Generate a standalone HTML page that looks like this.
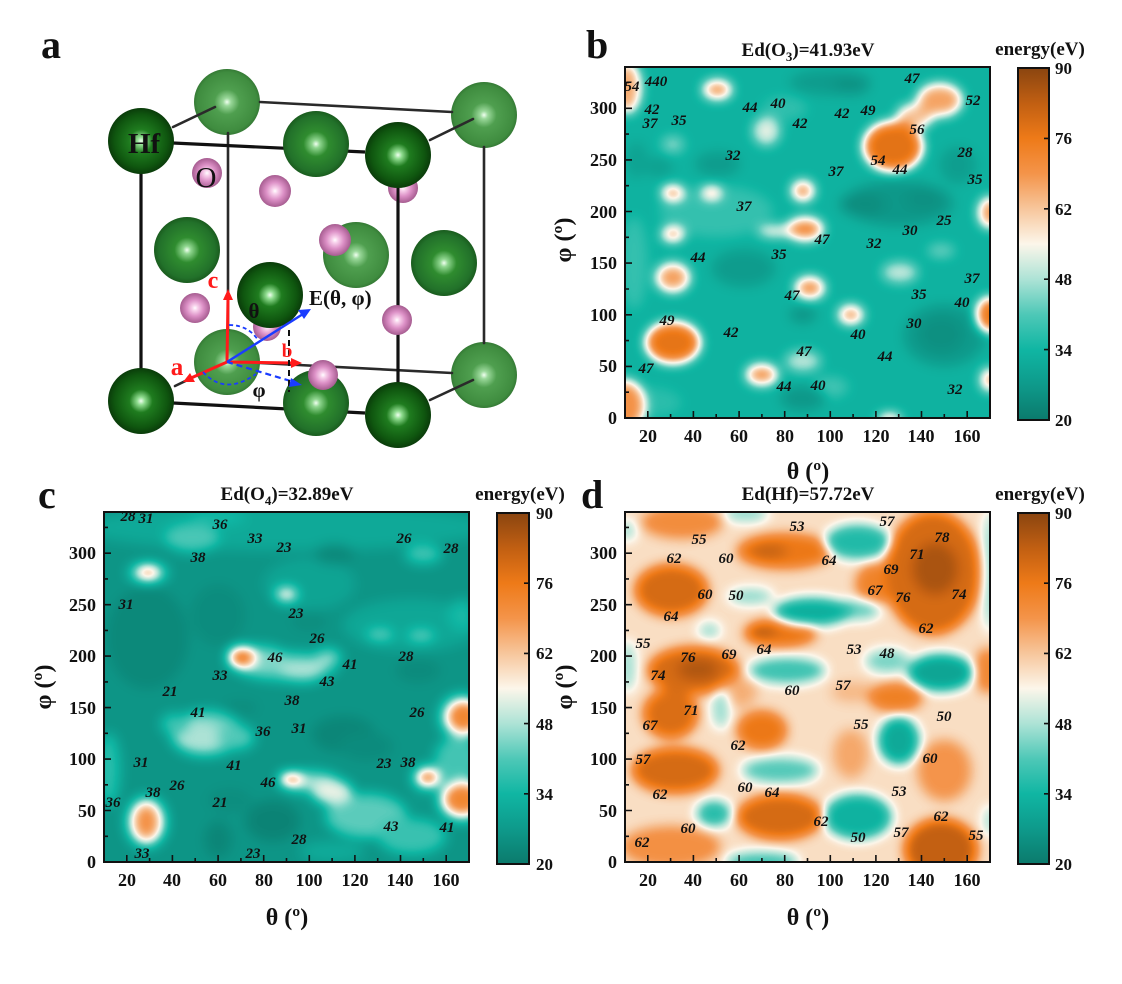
<!DOCTYPE html>
<html><head><meta charset="utf-8"><style>
html,body{margin:0;padding:0;background:#fff;}
svg{display:block;font-family:"Liberation Serif",serif;}
.lb{font-style:italic;font-weight:bold;font-size:15px;text-anchor:middle;fill:#111;}
.tx{font-weight:bold;font-size:18px;fill:#111;text-anchor:middle;}
.ty{font-weight:bold;font-size:18px;fill:#111;text-anchor:end;}
.cb{font-weight:bold;font-size:17px;fill:#111;}
.ti{font-weight:bold;font-size:19px;fill:#111;text-anchor:middle;}
.ax{font-weight:bold;font-size:24px;fill:#111;text-anchor:middle;}
.pl{font-weight:bold;font-size:40px;fill:#111;}
</style></head><body>
<svg width="1122" height="984" viewBox="0 0 1122 984" xmlns="http://www.w3.org/2000/svg">
<defs>
<filter id="cm" filterUnits="userSpaceOnUse" x="0" y="0" width="1122" height="984" color-interpolation-filters="sRGB">
<feGaussianBlur stdDeviation="6"/>
<feComponentTransfer>
<feFuncR type="table" tableValues="0.043 0.055 0.063 0.306 0.678 0.988 0.969 0.957 0.933 0.757 0.541"/>
<feFuncG type="table" tableValues="0.478 0.604 0.714 0.784 0.890 0.965 0.776 0.580 0.478 0.373 0.271"/>
<feFuncB type="table" tableValues="0.424 0.545 0.639 0.718 0.839 0.918 0.612 0.290 0.094 0.071 0.063"/>
</feComponentTransfer>
</filter>
<linearGradient id="cbar" x1="0" y1="1" x2="0" y2="0">
<stop offset="0" stop-color="#0b7a6c"/><stop offset="0.1" stop-color="#0e9a8b"/><stop offset="0.2" stop-color="#10b6a3"/><stop offset="0.3" stop-color="#4ec8b7"/><stop offset="0.4" stop-color="#ade3d6"/><stop offset="0.5" stop-color="#fcf6ea"/><stop offset="0.6" stop-color="#f7c69c"/><stop offset="0.7" stop-color="#f4944a"/><stop offset="0.8" stop-color="#ee7a18"/><stop offset="0.9" stop-color="#c15f12"/><stop offset="1" stop-color="#8a4510"/>
</linearGradient>
<clipPath id="clb"><rect x="625" y="67" width="365" height="351"/></clipPath>
<clipPath id="clc"><rect x="104" y="512" width="365" height="350"/></clipPath>
<clipPath id="cld"><rect x="625" y="512" width="365" height="350"/></clipPath>
<radialGradient id="gD" cx="0.5" cy="0.5" r="0.5"><stop offset="0" stop-color="#f0fff0"/><stop offset="0.12" stop-color="#8fdc8f"/><stop offset="0.35" stop-color="#1f7c1f"/><stop offset="0.8" stop-color="#0f560f"/><stop offset="1" stop-color="#0a3c0a"/></radialGradient>
<radialGradient id="gM" cx="0.5" cy="0.5" r="0.5"><stop offset="0" stop-color="#f0fff0"/><stop offset="0.12" stop-color="#8fd68f"/><stop offset="0.38" stop-color="#2f8c2f"/><stop offset="0.85" stop-color="#22712a"/><stop offset="1" stop-color="#1a5c1e"/></radialGradient>
<radialGradient id="gL" cx="0.5" cy="0.5" r="0.5"><stop offset="0" stop-color="#f0fff0"/><stop offset="0.12" stop-color="#9ad89a"/><stop offset="0.38" stop-color="#4f9f4f"/><stop offset="0.9" stop-color="#3f8c3f"/><stop offset="1" stop-color="#357a35"/></radialGradient>
<radialGradient id="gO" cx="0.5" cy="0.5" r="0.5"><stop offset="0" stop-color="#ffffff"/><stop offset="0.18" stop-color="#f8d2ec"/><stop offset="0.55" stop-color="#dc90c6"/><stop offset="1" stop-color="#a65c90"/></radialGradient>
</defs>

<!-- ================= PANEL A ================= -->
<text class="pl" x="41" y="58">a</text>
<circle cx="227" cy="102" r="33" fill="url(#gL)"/>
<circle cx="484" cy="115" r="33" fill="url(#gL)"/>
<circle cx="484" cy="375" r="33" fill="url(#gL)"/>
<circle cx="227" cy="362" r="33" fill="url(#gL)"/>
<circle cx="356" cy="255" r="33" fill="url(#gL)"/>
<g stroke="#2a2a2a" stroke-width="2.6" fill="none" stroke-linecap="round">
<path d="M173,127L215,107 M430,140L473,119 M175,386L200,374 M430,400L473,380"/>
<path d="M260,102L452,112 M484,147L484,343 M260,363L452,373 M228,133L228,330"/>
</g>
<g stroke="#111" stroke-width="3.2" fill="none">
<path d="M173,143L365,152 M141,172L141,370 M398,185L398,383 M173,403L365,413"/>
</g>
<circle cx="316" cy="403" r="33" fill="url(#gM)"/>
<circle cx="207" cy="173" r="15" fill="url(#gO)"/>
<circle cx="275" cy="191" r="16" fill="url(#gO)"/>
<circle cx="403" cy="188" r="15" fill="url(#gO)"/>
<circle cx="195" cy="308" r="15" fill="url(#gO)"/>
<circle cx="267" cy="327" r="14" fill="url(#gO)"/>
<circle cx="397" cy="320" r="15" fill="url(#gO)"/>
<circle cx="323" cy="375" r="15" fill="url(#gO)"/>
<circle cx="335" cy="240" r="16" fill="url(#gO)"/>
<circle cx="316" cy="144" r="33" fill="url(#gM)"/>
<circle cx="187" cy="250" r="33" fill="url(#gM)"/>
<circle cx="444" cy="263" r="33" fill="url(#gM)"/>
<circle cx="141" cy="141" r="33" fill="url(#gD)"/>
<circle cx="398" cy="155" r="33" fill="url(#gD)"/>
<circle cx="270" cy="295" r="33" fill="url(#gD)"/>
<circle cx="141" cy="401" r="33" fill="url(#gD)"/>
<circle cx="398" cy="415" r="33" fill="url(#gD)"/>
<line x1="398" y1="188" x2="398" y2="205" stroke="#111" stroke-width="3"/>
<text x="128" y="153" style="font-weight:bold;font-size:29px;fill:#111">Hf</text>
<text x="206" y="187" style="font-size:29px;fill:#111;text-anchor:middle">O</text>
<g stroke-width="3" fill="none">
<path d="M227,362L228,298" stroke="#ff1a1a"/>
<path d="M227,362L293,363" stroke="#ff1a1a"/>
<path d="M227,362L191,378" stroke="#ff1a1a"/>
<path d="M227,362L303,314" stroke="#1a3cff" stroke-width="2.5"/>
<path d="M227,362L294,382" stroke="#1a3cff" stroke-width="2.2" stroke-dasharray="6,4"/>
<path d="M229,325Q248,325 258,340" stroke="#1a3cff" stroke-width="1.8" stroke-dasharray="4,3"/>
<path d="M203,372Q225,396 256,374" stroke="#1a3cff" stroke-width="1.8" stroke-dasharray="4,3"/>
<path d="M289,330L289,392" stroke="#111" stroke-width="2" stroke-dasharray="6,4"/>
</g>
<polygon points="228,289 223,300 233,300" fill="#ff1a1a"/>
<polygon points="302,363 291,358 291,368" fill="#ff1a1a"/>
<polygon points="183,382 190,373 195,382" fill="#ff1a1a"/>
<polygon points="311,309 298,310 304,319" fill="#1a3cff"/>
<polygon points="302,385 291,378 289,387" fill="#1a3cff"/>
<text x="213" y="288" style="font-weight:bold;font-size:24px;fill:#ff1a1a;text-anchor:middle">c</text>
<text x="287" y="357" style="font-weight:bold;font-size:19px;fill:#ff1a1a;text-anchor:middle">b</text>
<text x="177" y="375" style="font-weight:bold;font-size:25px;fill:#ff1a1a;text-anchor:middle">a</text>
<text x="254" y="318" style="font-weight:bold;font-size:21px;fill:#111;text-anchor:middle">θ</text>
<text x="259" y="397" style="font-weight:bold;font-size:21px;fill:#111;text-anchor:middle">φ</text>
<text x="309" y="305" style="font-weight:bold;font-size:21px;fill:#111">E(θ, φ)</text>

<!-- ================= PANEL B ================= -->
<text class="pl" x="586" y="58">b</text>
<text class="ti" x="808" y="56">Ed(O<tspan font-size="13" dy="5">3</tspan><tspan dy="-5">)=41.93eV</tspan></text>
<g clip-path="url(#clb)" filter="url(#cm)">
<g transform="translate(625,418) scale(2.281,-1.0324) translate(-10,0)">
<rect x="-20" y="-50" width="220" height="440" fill="rgb(48,48,48)"/>
<ellipse cx="50" cy="200" rx="25" ry="25" fill="rgb(66,66,66)"/>
<ellipse cx="14" cy="150" rx="6" ry="45" fill="rgb(66,66,66)"/>
<ellipse cx="80" cy="300" rx="10" ry="12" fill="rgb(64,64,64)"/>
<ellipse cx="20" cy="15" rx="15" ry="15" fill="rgb(62,62,62)"/>
<ellipse cx="100" cy="30" rx="8" ry="10" fill="rgb(72,72,72)"/>
<ellipse cx="100" cy="325" rx="18" ry="12" fill="rgb(28,28,28)"/>
<ellipse cx="109" cy="322" rx="8" ry="9" fill="rgb(20,20,20)"/>
<ellipse cx="50.6" cy="246" rx="10" ry="12" fill="rgb(28,28,28)"/>
<ellipse cx="25" cy="243" rx="6" ry="10" fill="rgb(32,32,32)"/>
<ellipse cx="156" cy="245" rx="8" ry="18" fill="rgb(30,30,30)"/>
<ellipse cx="130" cy="208" rx="24" ry="22" fill="rgb(24,24,24)"/>
<ellipse cx="114" cy="207" rx="10" ry="12" fill="rgb(16,16,16)"/>
<ellipse cx="141" cy="212" rx="8" ry="10" fill="rgb(18,18,18)"/>
<ellipse cx="150" cy="80" rx="18" ry="30" fill="rgb(26,26,26)"/>
<ellipse cx="148.7" cy="81" rx="10" ry="18" fill="rgb(18,18,18)"/>
<ellipse cx="88" cy="100" rx="6" ry="8" fill="rgb(22,22,22)"/>
<ellipse cx="62" cy="145" rx="14" ry="18" fill="rgb(28,28,28)"/>
<ellipse cx="88" cy="19" rx="10" ry="12" fill="rgb(24,24,24)"/>
<ellipse cx="15" cy="250" rx="5" ry="18" fill="rgb(34,34,34)"/>
<ellipse cx="31" cy="265" rx="5" ry="8" fill="rgb(95,95,95)"/>
<ellipse cx="130.5" cy="141" rx="8" ry="10" fill="rgb(110,110,110)"/>
<ellipse cx="148.6" cy="162" rx="6" ry="6" fill="rgb(92,92,92)"/>
<ellipse cx="88" cy="55" rx="8" ry="10" fill="rgb(108,108,108)"/>
<ellipse cx="72" cy="278" rx="6" ry="14" fill="rgb(120,120,120)"/>
<ellipse cx="11" cy="320" rx="6" ry="25" fill="rgb(168,168,168)"/>
<ellipse cx="50.5" cy="318" rx="6.4" ry="9" fill="rgb(180,180,180)"/>
<ellipse cx="137" cy="292" rx="8" ry="12" fill="rgb(155,155,155)"/>
<ellipse cx="148" cy="308" rx="10" ry="16" fill="rgb(170,170,170)"/>
<ellipse cx="127.5" cy="263" rx="13" ry="24" fill="rgb(210,210,210)"/>
<ellipse cx="31" cy="218" rx="5" ry="7" fill="rgb(185,185,185)"/>
<ellipse cx="48" cy="218" rx="4.5" ry="6" fill="rgb(175,175,175)"/>
<ellipse cx="88" cy="220" rx="5" ry="10" fill="rgb(178,178,178)"/>
<ellipse cx="76" cy="181" rx="8" ry="5" fill="rgb(145,145,145)"/>
<ellipse cx="31" cy="178" rx="5" ry="7" fill="rgb(178,178,178)"/>
<ellipse cx="89" cy="183" rx="8" ry="11" fill="rgb(185,185,185)"/>
<ellipse cx="170" cy="199" rx="5" ry="15" fill="rgb(178,178,178)"/>
<ellipse cx="31" cy="136" rx="7.5" ry="14" fill="rgb(172,172,172)"/>
<ellipse cx="91" cy="126" rx="6.5" ry="10.5" fill="rgb(180,180,180)"/>
<ellipse cx="109" cy="100" rx="5.5" ry="9" fill="rgb(175,175,175)"/>
<ellipse cx="31" cy="73" rx="12" ry="20" fill="rgb(208,208,208)"/>
<ellipse cx="170" cy="100" rx="6" ry="17" fill="rgb(205,205,205)"/>
<ellipse cx="70" cy="42" rx="7" ry="10" fill="rgb(180,180,180)"/>
<ellipse cx="170" cy="37" rx="4" ry="11" fill="rgb(172,172,172)"/>
<ellipse cx="10" cy="12" rx="9" ry="25" fill="rgb(180,180,180)"/>
<ellipse cx="126" cy="-2" rx="5" ry="6" fill="rgb(172,172,172)"/>
</g></g>
<rect x="625" y="67" width="365" height="351" fill="none" stroke="#111" stroke-width="2"/>
<g stroke="#111" stroke-width="1.6">
<path d="M625,366.4h7M625,314.8h7M625,263.1h7M625,211.5h7M625,159.9h7M625,108.3h7M625,392.2h4M625,340.6h4M625,289h4M625,237.3h4M625,185.7h4M625,134.1h4M625,82.5h4"/>
<path d="M647.8,418v-7M693.4,418v-7M739.1,418v-7M784.7,418v-7M830.3,418v-7M875.9,418v-7M921.5,418v-7M967.2,418v-7M670.6,418v-4M716.2,418v-4M761.9,418v-4M807.5,418v-4M853.1,418v-4M898.7,418v-4M944.3,418v-4"/>
</g>
<text x="617" y="424" class="ty">0</text><text x="617" y="372" class="ty">50</text><text x="617" y="321" class="ty">100</text><text x="617" y="269" class="ty">150</text><text x="617" y="218" class="ty">200</text><text x="617" y="166" class="ty">250</text><text x="617" y="114" class="ty">300</text>
<text class="tx" x="648" y="442">20</text><text class="tx" x="693" y="442">40</text><text class="tx" x="739" y="442">60</text><text class="tx" x="785" y="442">80</text><text class="tx" x="830" y="442">100</text><text class="tx" x="876" y="442">120</text><text class="tx" x="921" y="442">140</text><text class="tx" x="967" y="442">160</text>
<text class="ax" x="808" y="479">θ (º)</text>
<text class="ax" transform="translate(571,240) rotate(-90)">φ (º)</text>
<g>
<text class="lb" x="632" y="91">54</text><text class="lb" x="656" y="86">440</text><text class="lb" x="652" y="114">42</text><text class="lb" x="650" y="128">37</text><text class="lb" x="679" y="125">35</text><text class="lb" x="750" y="112">44</text><text class="lb" x="778" y="108">40</text><text class="lb" x="800" y="128">42</text><text class="lb" x="842" y="118">42</text><text class="lb" x="868" y="115">49</text><text class="lb" x="912" y="83">47</text><text class="lb" x="973" y="105">52</text><text class="lb" x="917" y="134">56</text><text class="lb" x="733" y="160">32</text><text class="lb" x="878" y="165">54</text><text class="lb" x="900" y="174">44</text><text class="lb" x="836" y="176">37</text><text class="lb" x="965" y="157">28</text><text class="lb" x="975" y="184">35</text><text class="lb" x="744" y="211">37</text><text class="lb" x="944" y="225">25</text><text class="lb" x="910" y="235">30</text><text class="lb" x="822" y="244">47</text><text class="lb" x="874" y="248">32</text><text class="lb" x="779" y="259">35</text><text class="lb" x="698" y="262">44</text><text class="lb" x="972" y="283">37</text><text class="lb" x="919" y="299">35</text><text class="lb" x="792" y="300">47</text><text class="lb" x="962" y="307">40</text><text class="lb" x="914" y="328">30</text><text class="lb" x="667" y="325">49</text><text class="lb" x="731" y="337">42</text><text class="lb" x="858" y="339">40</text><text class="lb" x="804" y="356">47</text><text class="lb" x="885" y="361">44</text><text class="lb" x="646" y="373">47</text><text class="lb" x="784" y="391">44</text><text class="lb" x="818" y="390">40</text><text class="lb" x="955" y="394">32</text>
</g>
<text class="ti" x="1040" y="55">energy(eV)</text>
<rect x="1018" y="68" width="31" height="352" fill="url(#cbar)" stroke="#111" stroke-width="2"/>
<path d="M1049,138.4h-5M1049,208.8h-5M1049,279.2h-5M1049,349.6h-5" stroke="#111" stroke-width="1.6"/>
<text class="cb" x="1055" y="74">90</text><text class="cb" x="1055" y="144">76</text><text class="cb" x="1055" y="215">62</text><text class="cb" x="1055" y="285">48</text><text class="cb" x="1055" y="356">34</text><text class="cb" x="1055" y="426">20</text>

<!-- ================= PANEL C ================= -->
<text class="pl" x="38" y="508">c</text>
<text class="ti" x="287" y="500">Ed(O<tspan font-size="13" dy="5">4</tspan><tspan dy="-5">)=32.89eV</tspan></text>
<g clip-path="url(#clc)" filter="url(#cm)">
<g transform="translate(104,862) scale(2.281,-1.0294) translate(-10,0)">
<rect x="-20" y="-50" width="220" height="440" fill="rgb(22,22,22)"/>
<ellipse cx="90" cy="325" rx="90" ry="22" fill="rgb(40,40,40)"/>
<ellipse cx="48.5" cy="315" rx="12" ry="14" fill="rgb(75,75,75)"/>
<ellipse cx="60" cy="335" rx="12" ry="8" fill="rgb(55,55,55)"/>
<ellipse cx="150" cy="299" rx="8" ry="9" fill="rgb(72,72,72)"/>
<ellipse cx="109" cy="280" rx="6" ry="6" fill="rgb(76,76,76)"/>
<ellipse cx="100" cy="270" rx="20" ry="25" fill="rgb(35,35,35)"/>
<ellipse cx="145" cy="230" rx="30" ry="25" fill="rgb(38,38,38)"/>
<ellipse cx="131" cy="221" rx="6" ry="6" fill="rgb(84,84,84)"/>
<ellipse cx="149" cy="220" rx="6" ry="6" fill="rgb(84,84,84)"/>
<ellipse cx="167" cy="240" rx="6" ry="15" fill="rgb(55,55,55)"/>
<ellipse cx="29" cy="218" rx="18" ry="50" fill="rgb(12,12,12)"/>
<ellipse cx="60" cy="240" rx="12" ry="30" fill="rgb(15,15,15)"/>
<ellipse cx="111" cy="299" rx="9" ry="10" fill="rgb(12,12,12)"/>
<ellipse cx="100" cy="234" rx="8" ry="10" fill="rgb(16,16,16)"/>
<ellipse cx="147.7" cy="186" rx="10" ry="12" fill="rgb(14,14,14)"/>
<ellipse cx="70" cy="150" rx="8" ry="8" fill="rgb(16,16,16)"/>
<ellipse cx="29.3" cy="281" rx="9" ry="10" fill="rgb(75,75,75)"/>
<ellipse cx="29.3" cy="281" rx="5" ry="6" fill="rgb(188,188,188)"/>
<ellipse cx="90" cy="260" rx="5" ry="7" fill="rgb(135,135,135)"/>
<ellipse cx="90" cy="190" rx="22" ry="14" fill="rgb(78,78,78)"/>
<ellipse cx="78" cy="196" rx="13" ry="14" fill="rgb(90,90,90)"/>
<ellipse cx="97" cy="186" rx="10" ry="11" fill="rgb(102,102,102)"/>
<ellipse cx="108" cy="199" rx="6" ry="8" fill="rgb(95,95,95)"/>
<ellipse cx="70.4" cy="199" rx="6" ry="10" fill="rgb(200,200,200)"/>
<ellipse cx="55" cy="125" rx="16" ry="22" fill="rgb(85,85,85)"/>
<ellipse cx="51.5" cy="121" rx="11" ry="16" fill="rgb(102,102,102)"/>
<ellipse cx="68" cy="121" rx="8" ry="12" fill="rgb(78,78,78)"/>
<ellipse cx="41" cy="134" rx="6" ry="10" fill="rgb(70,70,70)"/>
<ellipse cx="12" cy="90" rx="5" ry="35" fill="rgb(62,62,62)"/>
<ellipse cx="115" cy="124" rx="14" ry="18" fill="rgb(10,10,10)"/>
<ellipse cx="125" cy="112" rx="12" ry="14" fill="rgb(14,14,14)"/>
<ellipse cx="84" cy="40" rx="12" ry="20" fill="rgb(8,8,8)"/>
<ellipse cx="60" cy="22" rx="6" ry="18" fill="rgb(10,10,10)"/>
<ellipse cx="65" cy="60" rx="10" ry="12" fill="rgb(16,16,16)"/>
<ellipse cx="125" cy="45" rx="18" ry="22" fill="rgb(80,80,80)"/>
<ellipse cx="145" cy="25" rx="15" ry="18" fill="rgb(68,68,68)"/>
<ellipse cx="110" cy="10" rx="14" ry="10" fill="rgb(42,42,42)"/>
<ellipse cx="100" cy="78" rx="13" ry="10" fill="rgb(98,98,98)"/>
<ellipse cx="110" cy="68" rx="9" ry="12" fill="rgb(122,122,122)"/>
<ellipse cx="92" cy="81" rx="5" ry="5" fill="rgb(215,215,215)"/>
<ellipse cx="165" cy="100" rx="10" ry="22" fill="rgb(72,72,72)"/>
<ellipse cx="147.7" cy="61" rx="5" ry="8" fill="rgb(25,25,25)"/>
<ellipse cx="152" cy="82" rx="7" ry="12" fill="rgb(88,88,88)"/>
<ellipse cx="152" cy="82" rx="4.5" ry="7" fill="rgb(205,205,205)"/>
<ellipse cx="167" cy="141" rx="10" ry="22" fill="rgb(95,95,95)"/>
<ellipse cx="167.6" cy="141" rx="7" ry="15" fill="rgb(192,192,192)"/>
<ellipse cx="167" cy="61" rx="11" ry="22" fill="rgb(95,95,95)"/>
<ellipse cx="167" cy="61" rx="8" ry="15" fill="rgb(192,192,192)"/>
<ellipse cx="28.6" cy="39" rx="9" ry="25" fill="rgb(98,98,98)"/>
<ellipse cx="28.6" cy="39" rx="6" ry="18" fill="rgb(180,180,180)"/>
</g></g>
<rect x="104" y="512" width="365" height="350" fill="none" stroke="#111" stroke-width="2"/>
<g stroke="#111" stroke-width="1.6">
<path d="M104,810.5h7M104,759.1h7M104,707.6h7M104,656.1h7M104,604.7h7M104,553.2h7M104,836.3h4M104,784.8h4M104,733.3h4M104,681.9h4M104,630.4h4M104,578.9h4M104,527.4h4"/>
<path d="M126.8,862v-7M172.4,862v-7M218.1,862v-7M263.7,862v-7M309.3,862v-7M354.9,862v-7M400.5,862v-7M446.2,862v-7M149.6,862v-4M195.2,862v-4M240.9,862v-4M286.5,862v-4M332.1,862v-4M377.7,862v-4M423.3,862v-4"/>
</g>
<text x="96" y="868" class="ty">0</text><text x="96" y="817" class="ty">50</text><text x="96" y="765" class="ty">100</text><text x="96" y="714" class="ty">150</text><text x="96" y="662" class="ty">200</text><text x="96" y="611" class="ty">250</text><text x="96" y="559" class="ty">300</text>
<text class="tx" x="127" y="886">20</text><text class="tx" x="172" y="886">40</text><text class="tx" x="218" y="886">60</text><text class="tx" x="264" y="886">80</text><text class="tx" x="309" y="886">100</text><text class="tx" x="355" y="886">120</text><text class="tx" x="400" y="886">140</text><text class="tx" x="446" y="886">160</text>
<text class="ax" x="287" y="925">θ (º)</text>
<text class="ax" transform="translate(51,687) rotate(-90)">φ (º)</text>
<g>
<text class="lb" x="128" y="521">28</text><text class="lb" x="146" y="523">31</text><text class="lb" x="220" y="529">36</text><text class="lb" x="255" y="543">33</text><text class="lb" x="284" y="552">23</text><text class="lb" x="198" y="562">38</text><text class="lb" x="404" y="543">26</text><text class="lb" x="451" y="553">28</text><text class="lb" x="126" y="609">31</text><text class="lb" x="296" y="618">23</text><text class="lb" x="317" y="643">26</text><text class="lb" x="275" y="662">46</text><text class="lb" x="350" y="669">41</text><text class="lb" x="406" y="661">28</text><text class="lb" x="220" y="680">33</text><text class="lb" x="327" y="686">43</text><text class="lb" x="170" y="696">21</text><text class="lb" x="292" y="705">38</text><text class="lb" x="198" y="717">41</text><text class="lb" x="417" y="717">26</text><text class="lb" x="263" y="736">36</text><text class="lb" x="299" y="733">31</text><text class="lb" x="141" y="767">31</text><text class="lb" x="234" y="770">41</text><text class="lb" x="384" y="768">23</text><text class="lb" x="408" y="767">38</text><text class="lb" x="177" y="790">26</text><text class="lb" x="268" y="787">46</text><text class="lb" x="153" y="797">38</text><text class="lb" x="113" y="807">36</text><text class="lb" x="220" y="807">21</text><text class="lb" x="391" y="831">43</text><text class="lb" x="447" y="832">41</text><text class="lb" x="299" y="844">28</text><text class="lb" x="142" y="858">33</text><text class="lb" x="253" y="858">23</text>
</g>
<text class="ti" x="520" y="500">energy(eV)</text>
<rect x="497" y="513" width="32" height="351" fill="url(#cbar)" stroke="#111" stroke-width="2"/>
<path d="M529,583.2h-5M529,653.4h-5M529,723.6h-5M529,793.8h-5" stroke="#111" stroke-width="1.6"/>
<text class="cb" x="536" y="519">90</text><text class="cb" x="536" y="589">76</text><text class="cb" x="536" y="659">62</text><text class="cb" x="536" y="730">48</text><text class="cb" x="536" y="800">34</text><text class="cb" x="536" y="870">20</text>

<!-- ================= PANEL D ================= -->
<text class="pl" x="581" y="508">d</text>
<text class="ti" x="808" y="500">Ed(Hf)=57.72eV</text>
<g clip-path="url(#cld)" filter="url(#cm)">
<g transform="translate(625,862) scale(2.281,-1.0294) translate(-10,0)">
<rect x="-20" y="-50" width="220" height="440" fill="rgb(140,140,140)"/>
<ellipse cx="35" cy="330" rx="18" ry="16" fill="rgb(185,185,185)"/>
<ellipse cx="30.4" cy="264" rx="16" ry="25" fill="rgb(218,218,218)"/>
<ellipse cx="80" cy="302" rx="21" ry="17" fill="rgb(205,205,205)"/>
<ellipse cx="73" cy="302" rx="8" ry="8" fill="rgb(225,225,225)"/>
<ellipse cx="120" cy="270" rx="9" ry="20" fill="rgb(195,195,195)"/>
<ellipse cx="145" cy="281" rx="21" ry="60" fill="rgb(218,218,218)"/>
<ellipse cx="146" cy="285" rx="10" ry="25" fill="rgb(240,240,240)"/>
<ellipse cx="78" cy="222" rx="16" ry="13" fill="rgb(208,208,208)"/>
<ellipse cx="70" cy="225" rx="6" ry="8" fill="rgb(230,230,230)"/>
<ellipse cx="40" cy="186" rx="20" ry="23" fill="rgb(218,218,218)"/>
<ellipse cx="42" cy="187" rx="9" ry="10" fill="rgb(238,238,238)"/>
<ellipse cx="30" cy="144" rx="12" ry="24" fill="rgb(215,215,215)"/>
<ellipse cx="60" cy="165" rx="8" ry="15" fill="rgb(165,165,165)"/>
<ellipse cx="70" cy="128" rx="11" ry="19" fill="rgb(205,205,205)"/>
<ellipse cx="32" cy="89" rx="19" ry="22" fill="rgb(218,218,218)"/>
<ellipse cx="78" cy="44" rx="19" ry="22" fill="rgb(218,218,218)"/>
<ellipse cx="148.5" cy="12" rx="16" ry="30" fill="rgb(228,228,228)"/>
<ellipse cx="150" cy="89" rx="12" ry="30" fill="rgb(178,178,178)"/>
<ellipse cx="110" cy="165" rx="10" ry="10" fill="rgb(160,160,160)"/>
<ellipse cx="128.6" cy="160" rx="12" ry="14" fill="rgb(198,198,198)"/>
<ellipse cx="109" cy="105" rx="8" ry="24" fill="rgb(168,168,168)"/>
<ellipse cx="169" cy="186" rx="6" ry="22" fill="rgb(190,190,190)"/>
<ellipse cx="30" cy="15" rx="22" ry="20" fill="rgb(182,182,182)"/>
<ellipse cx="112" cy="311" rx="14.5" ry="17" fill="rgb(58,58,58)"/>
<ellipse cx="65" cy="258" rx="10" ry="8" fill="rgb(92,92,92)"/>
<ellipse cx="112" cy="245" rx="10" ry="10" fill="rgb(82,82,82)"/>
<ellipse cx="92" cy="243" rx="17" ry="13.5" fill="rgb(44,44,44)"/>
<ellipse cx="125" cy="195" rx="10" ry="12" fill="rgb(88,88,88)"/>
<ellipse cx="148.5" cy="184" rx="14.5" ry="18" fill="rgb(36,36,36)"/>
<ellipse cx="81" cy="186" rx="17" ry="13" fill="rgb(70,70,70)"/>
<ellipse cx="130" cy="118" rx="9" ry="23" fill="rgb(40,40,40)"/>
<ellipse cx="78" cy="89" rx="17" ry="13" fill="rgb(78,78,78)"/>
<ellipse cx="112" cy="44" rx="15" ry="22" fill="rgb(48,48,48)"/>
<ellipse cx="49" cy="47" rx="7.7" ry="13" fill="rgb(60,60,60)"/>
<ellipse cx="52" cy="149" rx="4" ry="20" fill="rgb(95,95,95)"/>
<ellipse cx="47" cy="225" rx="5" ry="8" fill="rgb(95,95,95)"/>
<ellipse cx="70" cy="0" rx="16" ry="10" fill="rgb(70,70,70)"/>
<ellipse cx="170" cy="283" rx="3" ry="60" fill="rgb(88,88,88)"/>
<ellipse cx="170" cy="40" rx="3" ry="15" fill="rgb(98,98,98)"/>
<ellipse cx="11" cy="322" rx="4" ry="10" fill="rgb(98,98,98)"/>
<ellipse cx="63" cy="338" rx="10" ry="8" fill="rgb(92,92,92)"/>
<ellipse cx="11" cy="190" rx="4" ry="25" fill="rgb(98,98,98)"/>
</g></g>
<rect x="625" y="512" width="365" height="350" fill="none" stroke="#111" stroke-width="2"/>
<g stroke="#111" stroke-width="1.6">
<path d="M625,810.5h7M625,759.1h7M625,707.6h7M625,656.1h7M625,604.7h7M625,553.2h7M625,836.3h4M625,784.8h4M625,733.3h4M625,681.9h4M625,630.4h4M625,578.9h4M625,527.4h4"/>
<path d="M647.8,862v-7M693.4,862v-7M739.1,862v-7M784.7,862v-7M830.3,862v-7M875.9,862v-7M921.5,862v-7M967.2,862v-7M670.6,862v-4M716.2,862v-4M761.9,862v-4M807.5,862v-4M853.1,862v-4M898.7,862v-4M944.3,862v-4"/>
</g>
<text x="617" y="868" class="ty">0</text><text x="617" y="817" class="ty">50</text><text x="617" y="765" class="ty">100</text><text x="617" y="714" class="ty">150</text><text x="617" y="662" class="ty">200</text><text x="617" y="611" class="ty">250</text><text x="617" y="559" class="ty">300</text>
<text class="tx" x="648" y="886">20</text><text class="tx" x="693" y="886">40</text><text class="tx" x="739" y="886">60</text><text class="tx" x="785" y="886">80</text><text class="tx" x="830" y="886">100</text><text class="tx" x="876" y="886">120</text><text class="tx" x="921" y="886">140</text><text class="tx" x="967" y="886">160</text>
<text class="ax" x="808" y="925">θ (º)</text>
<text class="ax" transform="translate(572,687) rotate(-90)">φ (º)</text>
<g>
<text class="lb" x="797" y="531">53</text><text class="lb" x="887" y="526">57</text><text class="lb" x="699" y="544">55</text><text class="lb" x="942" y="542">78</text><text class="lb" x="674" y="563">62</text><text class="lb" x="726" y="563">60</text><text class="lb" x="829" y="565">64</text><text class="lb" x="917" y="559">71</text><text class="lb" x="891" y="574">69</text><text class="lb" x="705" y="599">60</text><text class="lb" x="736" y="600">50</text><text class="lb" x="875" y="595">67</text><text class="lb" x="903" y="602">76</text><text class="lb" x="959" y="599">74</text><text class="lb" x="671" y="621">64</text><text class="lb" x="926" y="633">62</text><text class="lb" x="643" y="648">55</text><text class="lb" x="764" y="654">64</text><text class="lb" x="854" y="654">53</text><text class="lb" x="887" y="658">48</text><text class="lb" x="688" y="662">76</text><text class="lb" x="729" y="659">69</text><text class="lb" x="658" y="680">74</text><text class="lb" x="843" y="690">57</text><text class="lb" x="792" y="695">60</text><text class="lb" x="691" y="715">71</text><text class="lb" x="944" y="721">50</text><text class="lb" x="650" y="730">67</text><text class="lb" x="861" y="729">55</text><text class="lb" x="738" y="750">62</text><text class="lb" x="643" y="764">57</text><text class="lb" x="930" y="763">60</text><text class="lb" x="745" y="792">60</text><text class="lb" x="772" y="797">64</text><text class="lb" x="660" y="799">62</text><text class="lb" x="899" y="796">53</text><text class="lb" x="821" y="826">62</text><text class="lb" x="941" y="821">62</text><text class="lb" x="688" y="833">60</text><text class="lb" x="901" y="837">57</text><text class="lb" x="858" y="842">50</text><text class="lb" x="976" y="840">55</text><text class="lb" x="642" y="847">62</text>
</g>
<text class="ti" x="1040" y="500">energy(eV)</text>
<rect x="1018" y="513" width="31" height="351" fill="url(#cbar)" stroke="#111" stroke-width="2"/>
<path d="M1049,583.2h-5M1049,653.4h-5M1049,723.6h-5M1049,793.8h-5" stroke="#111" stroke-width="1.6"/>
<text class="cb" x="1055" y="519">90</text><text class="cb" x="1055" y="589">76</text><text class="cb" x="1055" y="659">62</text><text class="cb" x="1055" y="730">48</text><text class="cb" x="1055" y="800">34</text><text class="cb" x="1055" y="870">20</text>
</svg>
</body></html>
